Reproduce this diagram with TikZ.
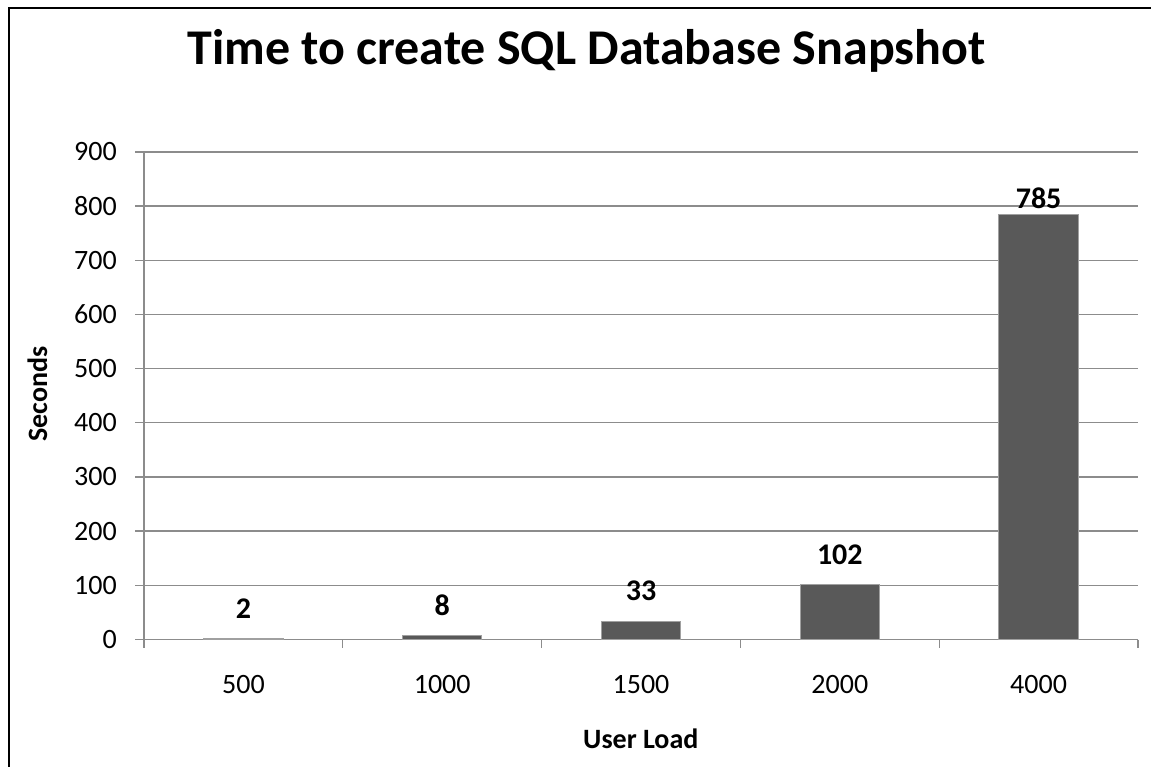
\documentclass[tikz,border=0pt]{standalone}
\usepackage{fontspec}
\setmainfont{Carlito}
\definecolor{gridc}{HTML}{8C8C8C}
\definecolor{barc}{HTML}{595959}
\definecolor{baredge}{HTML}{A0A0A0}
\begin{document}
\begin{tikzpicture}[x=1pt,y=-1pt,
  grid/.style={draw=gridc,line width=1.3pt},
  barbox/.style={fill=barc,draw=baredge,line width=1pt},
  ticklab/.style={font=\fontsize{28}{30}\selectfont,inner sep=0pt},
  vallab/.style={font=\fontsize{30}{32}\selectfont\bfseries,inner sep=0pt,anchor=base},
  axtitle/.style={font=\fontsize{28}{30}\selectfont\bfseries,inner sep=0pt,anchor=base}]
\useasboundingbox (0,0) rectangle (1151,767);
\fill[white] (0,0) rectangle (1151,767);
% frame
\draw[black,line width=2.2pt] (9,767) -- (9,8) -- (1151,8);
% title
\node[font=\fontsize{50}{56}\selectfont\bfseries,inner sep=0pt,anchor=base] (title) at (586.5,65) {Time to create SQL Database Snapshot};
% gridlines and y labels
\foreach \v [count=\i from 0] in {0,100,...,900}{
  \pgfmathsetmacro{\yy}{639.5-\v*0.5418}
  \draw[grid] (135,\yy) -- (1138,\yy);
  \node[ticklab,anchor=base east] (yl\i) at (117,\yy+9) {\v};
}
% y axis line
\draw[grid] (144,151.7) -- (144,639.5);
% x ticks
\foreach \k in {0,...,5}{
  \draw[grid] (144+198.8*\k,639.5) -- (144+198.8*\k,648);
}
% bars
\foreach \c/\val [count=\i from 0] in {500/2,1000/8,1500/33,2000/102,4000/785}{
  \pgfmathsetmacro{\xc}{144+198.8*(\i+0.5)}
  \pgfmathsetmacro{\yt}{639.5-\val*0.5418}
  \draw[barbox] (\xc-39.7,639.5) rectangle (\xc+39.7,\yt);
  \node[ticklab,anchor=base] (xl\i) at (\xc,693) {\c};
}
\node[vallab] (v0) at (243.4,618) {2};
\node[vallab] (v1) at (442.2,615) {8};
\node[vallab] (v2) at (641.0,600.5) {33};
\node[vallab] (v3) at (839.8,564.3) {102};
\node[vallab] (v4) at (1038.6,209) {785};
% axis titles
\node[axtitle] (xt) at (640.8,748) {User Load};
\node[axtitle,rotate=90] (yt) at (47,394) {Seconds};
\end{tikzpicture}
\end{document}
